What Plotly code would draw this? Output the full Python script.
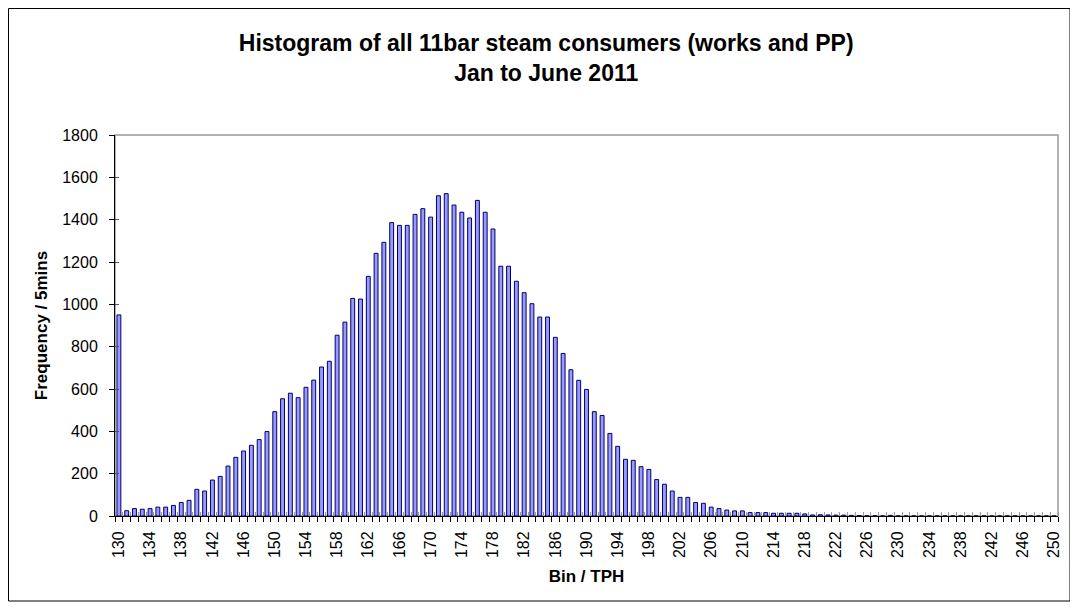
import plotly.graph_objects as go

# ---- data ----
bins = list(range(130, 251))
freq_130_160 = [950, 25, 35, 32, 35, 42, 42, 50, 64, 74, 126, 118, 170, 187, 236, 277,
                307, 334, 361, 399, 493, 554, 580, 559, 608, 642, 704, 731, 854, 916, 1028]
freq_161_190 = [1025, 1132, 1241, 1293, 1386, 1373, 1373, 1425, 1452, 1412, 1513, 1523,
                1469, 1435, 1408, 1491, 1435, 1356, 1180, 1180, 1109, 1055, 1003, 940, 940,
                844, 768, 691, 641, 598]
freq_191_250 = [493, 475, 390, 329, 268, 263, 233, 220, 172, 150, 118, 88, 88, 64, 60,
                42, 35, 28, 24, 24, 16, 16, 16, 13, 13, 13, 13, 10, 5, 6, 5, 4, 4, 3, 2,
                1, 1, 0, 3, 0, 0, 0, 0, 0, 0, 0, 0, 0, 0, 0, 0, 0, 0, 0, 0, 0, 0, 0, 0, 0]
frequency = freq_130_160 + freq_161_190 + freq_191_250
tick_labels = [str(b) for b in range(130, 251, 4)]

title_text = "<b>Histogram of all 11bar steam consumers (works and PP)<br>Jan to June 2011</b>"

FONT = "Liberation Sans, Arial, sans-serif"

fig = go.Figure()
fig.add_trace(go.Bar(
    x=bins, y=frequency,
    marker=dict(color="#9999FF", line=dict(color="#000066", width=1)),
    width=0.5,
    showlegend=False,
))

# figure is placed at an 8px page offset (default body margin)
W, H = 1070, 600
L, R, T, B = 107, 20, 127, 92
pw, ph = W - L - R, H - T - B

def px_x(p):
    return (p - L) / pw

def px_y(p):
    return (H - B - p) / ph

fig.update_layout(
    width=W, height=H,
    margin=dict(l=L, r=R, t=T, b=B),
    paper_bgcolor="white", plot_bgcolor="white",
    font=dict(family=FONT, color="black"),
    title=dict(text=title_text, x=0.503, xref="container", xanchor="center",
               y=0.928, yref="container", yanchor="top",
               font=dict(family=FONT, size=23, color="black")),
    bargap=0.5,
    xaxis=dict(
        range=[129.5, 250.5], tickvals=list(range(130, 251, 4)), ticktext=tick_labels,
        tickangle=-90, ticks="", ticklabelstandoff=8,
        tickfont=dict(family=FONT, size=16, color="black"),
        showgrid=False, zeroline=False,
        showline=True, linecolor="black", linewidth=1,
        minor=dict(ticks="outside", tick0=129.5, dtick=1, ticklen=5,
                   tickcolor="black", tickwidth=1, showgrid=False),
        title=dict(text="<b>Bin / TPH</b>", font=dict(family=FONT, size=17, color="black"),
                   standoff=12),
    ),
    xaxis2=dict(
        overlaying="x", anchor="y", range=[129.5, 250.5], showticklabels=False,
        ticks="", showgrid=False, zeroline=False, showline=False,
        minor=dict(ticks="inside", tick0=129.5, dtick=1, ticklen=4,
                   tickcolor="#999999", tickwidth=1, showgrid=False),
    ),
    yaxis=dict(
        range=[0, 1800], dtick=200, ticks="outside", ticklen=5, tickcolor="black",
        ticklabelstandoff=8,
        tickfont=dict(family=FONT, size=16, color="black"),
        showgrid=False, zeroline=False,
        showline=True, linecolor="black", linewidth=1,
        title=dict(text="<b>Frequency / 5mins</b>", font=dict(family=FONT, size=17, color="black"),
                   standoff=10),
    ),
    yaxis2=dict(
        overlaying="y", anchor="x", range=[0, 1800], dtick=200, showticklabels=False,
        ticks="inside", ticklen=4, tickcolor="#555555", showgrid=False, zeroline=False,
        showline=False, side="left",
    ),
    shapes=[
        dict(type="rect", xref="paper", yref="paper", x0=0, x1=1, y0=0, y1=1,
             line=dict(color="#999999", width=1.5), layer="below"),
        dict(type="rect", xref="paper", yref="paper",
             x0=px_x(0.5), x1=px_x(1062), y0=px_y(593), y1=px_y(0.5),
             line=dict(color="black", width=1), layer="below"),
    ],
)

# invisible helper trace so the overlay axes (inner tick halves) are drawn
fig.add_trace(go.Scatter(x=[130], y=[0], xaxis="x2", yaxis="y2", mode="markers",
                         marker=dict(opacity=0), showlegend=False, hoverinfo="skip"))

fig.write_html("out.html")
